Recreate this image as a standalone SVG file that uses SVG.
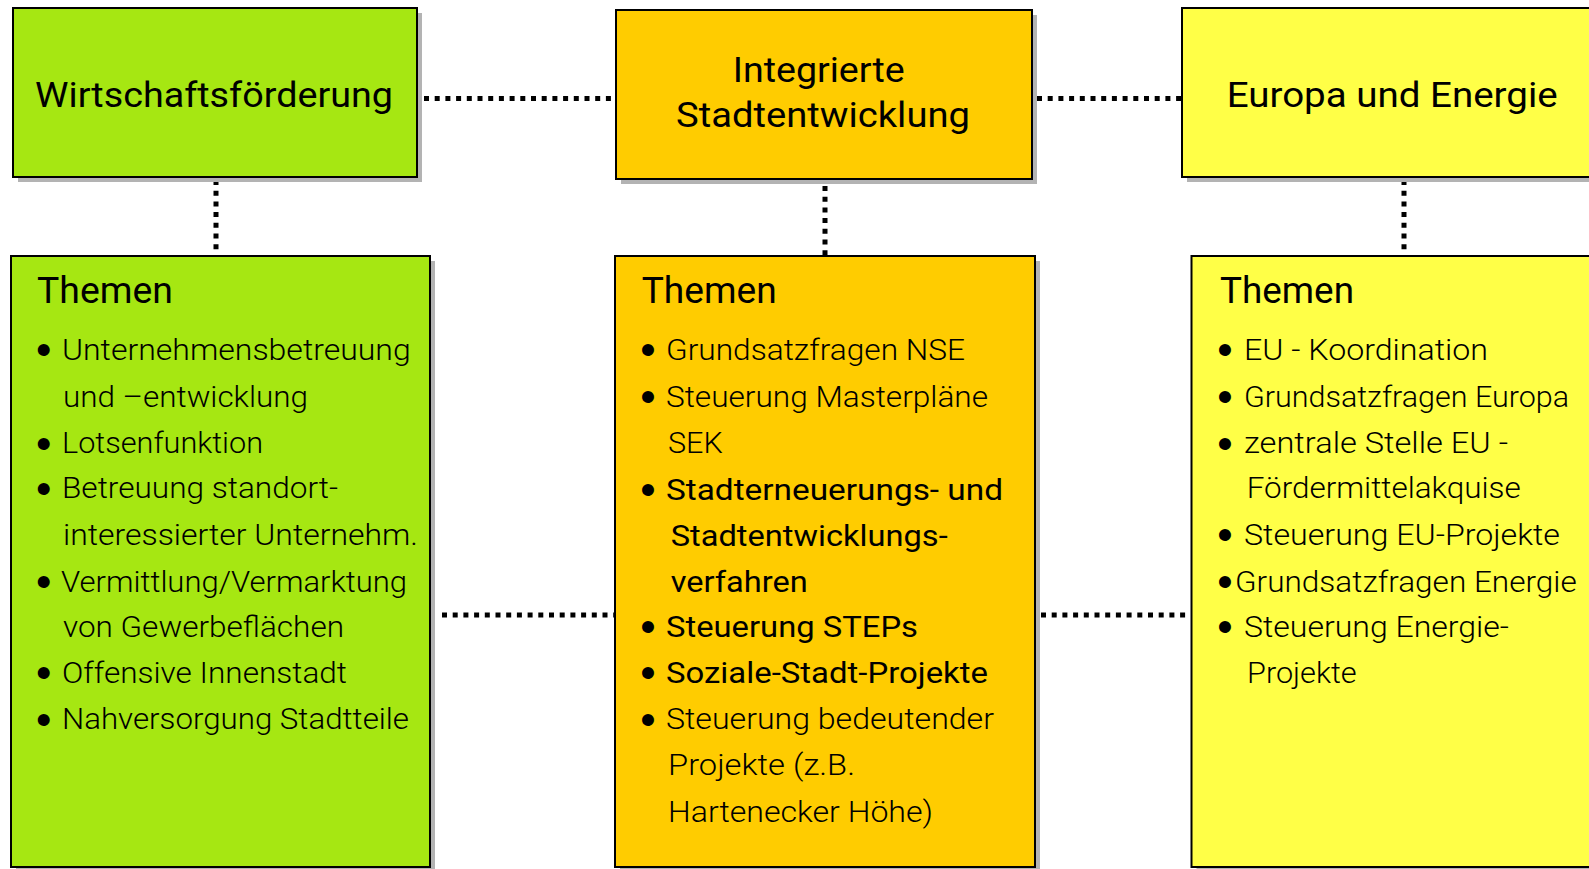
<svg xmlns="http://www.w3.org/2000/svg" width="1589" height="869" viewBox="0 0 1589 869">
<style>
.box{stroke:#000;stroke-width:2}
.sh{fill:#b3b3b3}
.g{fill:#a6e712}
.o{fill:#ffcc00}
.y{fill:#ffff47}
.h{font-family:Roboto,"Liberation Sans",sans-serif;font-size:35px;font-weight:400;fill:#000}
.t{font-family:Roboto,"Liberation Sans",sans-serif;font-size:36px;font-weight:400;fill:#000}
.b{font-family:Roboto,"Liberation Sans",sans-serif;font-size:29px;font-weight:300;fill:#000}
.m{font-family:Roboto,"Liberation Sans",sans-serif;font-size:30px;font-weight:400;fill:#000}
.d{font-family:"Liberation Sans",sans-serif;font-size:44px;font-weight:400}
.c{stroke:#000;stroke-width:5;stroke-dasharray:5 5.7;fill:none}
</style>
<rect width="1589" height="869" fill="#fff"/>
<g id="connectors">
<line class="c" x1="424" y1="98.5" x2="614" y2="98.5"/>
<line class="c" x1="1037" y1="98.5" x2="1181" y2="98.5"/>
<line class="c" x1="216" y1="180" x2="216" y2="256"/>
<line class="c" x1="825" y1="186" x2="825" y2="256"/>
<line class="c" x1="1404" y1="180" x2="1404" y2="256"/>
<line class="c" x1="442" y1="615" x2="614" y2="615"/>
<line class="c" x1="1041" y1="615" x2="1190" y2="615"/>
</g>
<g id="wirtschaft">
<rect class="sh" x="18" y="13" width="404" height="169"/>
<rect class="box g" x="13" y="8" width="404" height="169"/>
<text class="h" x="35" y="106.7" textLength="358" lengthAdjust="spacingAndGlyphs">Wirtschaftsförderung</text>
</g>
<g id="stadtentwicklung">
<rect class="sh" x="621" y="15" width="416" height="169"/>
<rect class="box o" x="616" y="10" width="416" height="169"/>
<text class="h" x="732.7" y="81.7" textLength="172" lengthAdjust="spacingAndGlyphs">Integrierte</text>
<text class="h" x="676" y="127" textLength="294" lengthAdjust="spacingAndGlyphs">Stadtentwicklung</text>
</g>
<g id="europa">
<rect class="sh" x="1187" y="13" width="420" height="169"/>
<rect class="box y" x="1182" y="8" width="420" height="169"/>
<text class="h" x="1226.7" y="106.7" textLength="331" lengthAdjust="spacingAndGlyphs">Europa und Energie</text>
</g>
<g id="themen-wirtschaft">
<rect class="sh" x="16" y="261" width="419" height="620"/>
<rect class="box g" x="11" y="256" width="419" height="611"/>
<text class="t" x="37" y="302.7" textLength="136" lengthAdjust="spacingAndGlyphs">Themen</text>
<text class="b"><tspan class="d" x="36.1" y="365.4">•</tspan><tspan x="62" y="360" textLength="348.7" lengthAdjust="spacingAndGlyphs">Unternehmensbetreuung</tspan></text>
<text class="b" x="63" y="406.7" textLength="245" lengthAdjust="spacingAndGlyphs">und –entwicklung</text>
<text class="b"><tspan class="d" x="36.1" y="458.7">•</tspan><tspan x="62" y="453.3" textLength="201" lengthAdjust="spacingAndGlyphs">Lotsenfunktion</tspan></text>
<text class="b"><tspan class="d" x="36.1" y="503.7">•</tspan><tspan x="62" y="498.3" textLength="276" lengthAdjust="spacingAndGlyphs">Betreuung standort-</tspan></text>
<text class="b" x="63" y="545" textLength="355" lengthAdjust="spacingAndGlyphs">interessierter Unternehm.</text>
<text class="b"><tspan class="d" x="36.1" y="597.1">•</tspan><tspan x="61" y="591.7" textLength="346" lengthAdjust="spacingAndGlyphs">Vermittlung/Vermarktung</tspan></text>
<text class="b" x="63" y="636.7" textLength="281" lengthAdjust="spacingAndGlyphs">von Gewerbeflächen</text>
<text class="b"><tspan class="d" x="36.1" y="688.1">•</tspan><tspan x="62" y="682.7" textLength="285" lengthAdjust="spacingAndGlyphs">Offensive Innenstadt</tspan></text>
<text class="b"><tspan class="d" x="36.1" y="734.7">•</tspan><tspan x="62" y="729.3" textLength="347" lengthAdjust="spacingAndGlyphs">Nahversorgung Stadtteile</tspan></text>
</g>
<g id="themen-stadtentwicklung">
<rect class="sh" x="620" y="261" width="420" height="620"/>
<rect class="box o" x="615" y="256" width="420" height="611"/>
<text class="t" x="641.7" y="302.7" textLength="135" lengthAdjust="spacingAndGlyphs">Themen</text>
<text class="b"><tspan class="d" x="640.3" y="365.4">•</tspan><tspan x="666" y="360" textLength="299" lengthAdjust="spacingAndGlyphs">Grundsatzfragen NSE</tspan></text>
<text class="b"><tspan class="d" x="640.3" y="412.1">•</tspan><tspan x="666" y="406.7" textLength="322" lengthAdjust="spacingAndGlyphs">Steuerung Masterpläne</tspan></text>
<text class="b" x="668" y="453.3" textLength="54.7" lengthAdjust="spacingAndGlyphs">SEK</text>
<text class="m"><tspan class="d" x="640.3" y="505.4">•</tspan><tspan x="666" y="500" textLength="337" lengthAdjust="spacingAndGlyphs">Stadterneuerungs- und</tspan></text>
<text class="m" x="670.7" y="546" textLength="277" lengthAdjust="spacingAndGlyphs">Stadtentwicklungs-</text>
<text class="m" x="670.7" y="591.7" textLength="137" lengthAdjust="spacingAndGlyphs">verfahren</text>
<text class="m"><tspan class="d" x="640.3" y="642.1">•</tspan><tspan x="666" y="636.7" textLength="252" lengthAdjust="spacingAndGlyphs">Steuerung STEPs</tspan></text>
<text class="m"><tspan class="d" x="640.3" y="688.1">•</tspan><tspan x="666" y="682.7" textLength="322" lengthAdjust="spacingAndGlyphs">Soziale-Stadt-Projekte</tspan></text>
<text class="b"><tspan class="d" x="640.3" y="734.7">•</tspan><tspan x="666" y="729.3" textLength="328" lengthAdjust="spacingAndGlyphs">Steuerung bedeutender</tspan></text>
<text class="b" x="668" y="775" textLength="187" lengthAdjust="spacingAndGlyphs">Projekte (z.B.</text>
<text class="b" x="668" y="821.7" textLength="265" lengthAdjust="spacingAndGlyphs">Hartenecker Höhe)</text>
</g>
<g id="themen-europa">
<rect class="sh" x="1196.5" y="261" width="420" height="620"/>
<rect class="box y" x="1191.5" y="256" width="420" height="611"/>
<text class="t" x="1220" y="302.7" textLength="134" lengthAdjust="spacingAndGlyphs">Themen</text>
<text class="b"><tspan class="d" x="1217.3" y="365.4">•</tspan><tspan x="1244" y="360" textLength="244" lengthAdjust="spacingAndGlyphs">EU - Koordination</tspan></text>
<text class="b"><tspan class="d" x="1217.3" y="412.1">•</tspan><tspan x="1244" y="406.7" textLength="325" lengthAdjust="spacingAndGlyphs">Grundsatzfragen Europa</tspan></text>
<text class="b"><tspan class="d" x="1217.3" y="458.7">•</tspan><tspan x="1244" y="453.3" textLength="264" lengthAdjust="spacingAndGlyphs">zentrale Stelle EU -</tspan></text>
<text class="b" x="1246.7" y="498.3" textLength="274" lengthAdjust="spacingAndGlyphs">Fördermittelakquise</text>
<text class="b"><tspan class="d" x="1217.3" y="550.4">•</tspan><tspan x="1244" y="545" textLength="316" lengthAdjust="spacingAndGlyphs">Steuerung EU-Projekte</tspan></text>
<text class="b"><tspan class="d" x="1217.3" y="597.1">•</tspan><tspan x="1235" y="591.7" textLength="341.7" lengthAdjust="spacingAndGlyphs">Grundsatzfragen Energie</tspan></text>
<text class="b"><tspan class="d" x="1217.3" y="642.1">•</tspan><tspan x="1244" y="636.7" textLength="265" lengthAdjust="spacingAndGlyphs">Steuerung Energie-</tspan></text>
<text class="b" x="1247" y="682.7" textLength="109.7" lengthAdjust="spacingAndGlyphs">Projekte</text>
</g>
</svg>
